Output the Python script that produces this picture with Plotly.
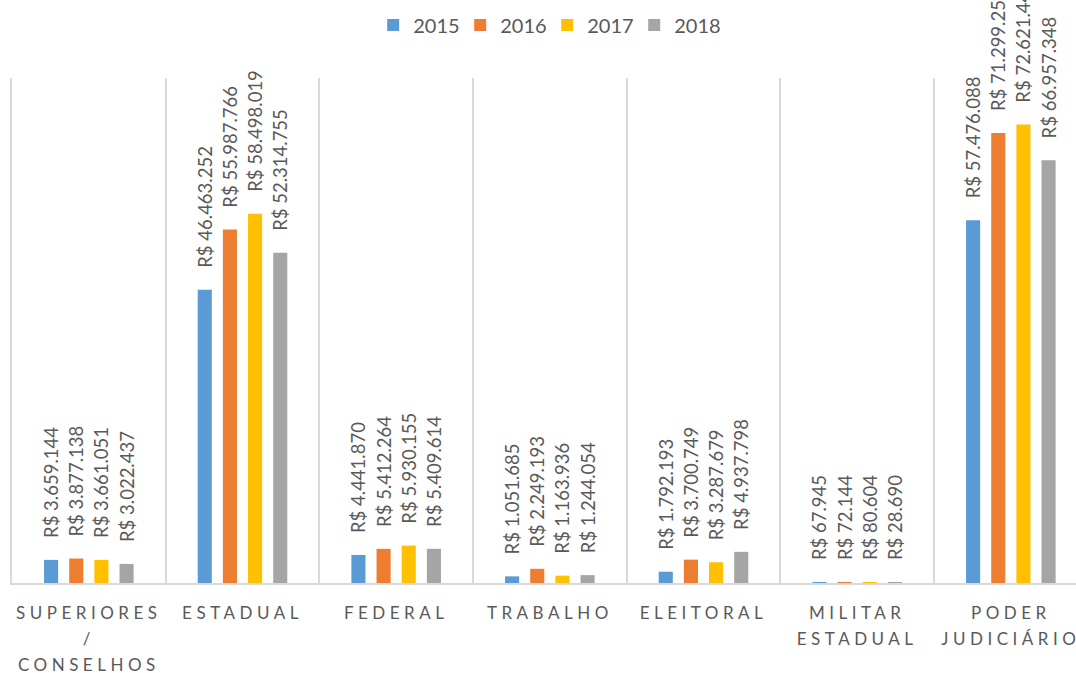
import plotly.graph_objects as go

categories = [
    "SUPERIORES<br>/<br>CONSELHOS",
    "ESTADUAL",
    "FEDERAL",
    "TRABALHO",
    "ELEITORAL",
    "MILITAR<br>ESTADUAL",
    "PODER<br>JUDICIÁRIO",
]
years = ["2015", "2016", "2017", "2018"]
v2015 = [3659144, 46463252, 4441870, 1051685, 1792193, 67945, 57476088]
v2016 = [3877138, 55987766, 5412264, 2249193, 3700749, 72144, 71299253]
v2017 = [3661051, 58498019, 5930155, 1163936, 3287679, 80604, 72621443]
v2018 = [3022437, 52314755, 5409614, 1244054, 4937798, 28690, 66957348]
series = [v2015, v2016, v2017, v2018]
colors = ["#5B9BD5", "#ED7D31", "#FFC000", "#A5A5A5"]

FONT = "Lato, 'Open Sans', sans-serif"
GRAY = "#595959"

fig = go.Figure()
for name, vals, col in zip(years, series, colors):
    fig.add_trace(go.Bar(
        name=name, x=categories, y=vals,
        marker=dict(color=col, line=dict(width=0)),
        texttemplate="\u00a0\u00a0\u00a0\u00a0R$ %{y:,.0f}",
        textposition="outside",
        textangle=-90,
        constraintext="none",
        cliponaxis=False,
        textfont=dict(family=FONT, size=18.5, color=GRAY),
    ))

ticktext = ["<br>".join(
    f"<span style='letter-spacing:4.5px;font-size:17px'>{line}</span>" for line in c.split("<br>")
) for c in categories]

fig.update_layout(
    width=1076, height=673,
    barmode="group", bargap=0.345, bargroupgap=0.44,
    separators=",.",
    paper_bgcolor="white", plot_bgcolor="white",
    margin=dict(l=12, r=0, t=78, b=90, autoexpand=False),
    font=dict(family=FONT, color=GRAY),
    showlegend=True,
    legend=dict(orientation="h", x=0.503, xanchor="center", y=1.105, yanchor="middle",
                entrywidth=42, entrywidthmode="pixels",
                font=dict(family=FONT, size=20, color=GRAY), bgcolor="rgba(0,0,0,0)"),
    xaxis=dict(
        type="category", range=[-0.5, 6.424],
        tickmode="array", tickvals=categories, ticktext=ticktext,
        tickangle=0, automargin=False,
        tickson="boundaries", ticks="", showgrid=True, gridcolor="#D9D9D9", gridwidth=1.5,
        showline=True, linecolor="#D9D9D9", linewidth=2,
        tickfont=dict(family=FONT, size=20, color=GRAY),
        ticklabelstandoff=10,
    ),
    yaxis=dict(range=[0, 80000000], showticklabels=False, showgrid=False, zeroline=False,
               showline=True, linecolor="#D9D9D9", linewidth=1.5, automargin=False),
)

fig.write_html("out.html",
               config={"displayModeBar": False},
               post_script="document.body.style.margin='0px';document.body.style.overflow='hidden';")
